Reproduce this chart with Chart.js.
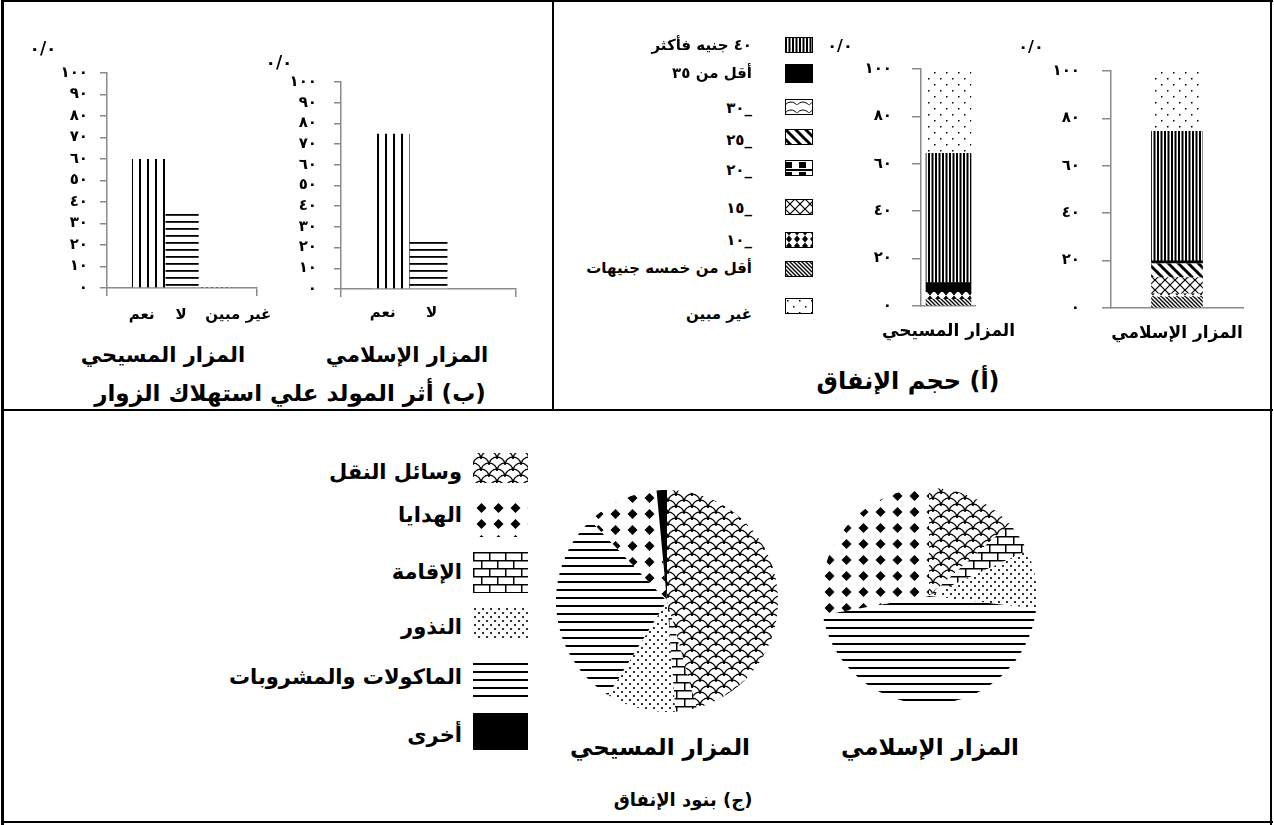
<!DOCTYPE html>
<html lang="ar">
<head>
<meta charset="utf-8">
<script src="https://cdn.jsdelivr.net/npm/chart.js@4"></script>
<style>
  body { margin: 0; background: #fff; }
  #page { position: relative; width: 1274px; height: 825px; overflow: hidden; background: #fff; font-family: "DejaVu Sans", sans-serif; }
  canvas { position: absolute; }
  .ln { position: absolute; background: #000; }
  .t { position: absolute; white-space: nowrap; font-weight: bold; line-height: 1; color: #000; }
</style>
</head>
<body>
<div id="page">
  <div class="ln" style="left:1px;top:0;width:1272px;height:2px"></div>
  <div class="ln" style="left:1px;top:0;width:3px;height:825px"></div>
  <div class="ln" style="left:1270px;top:0;width:2px;height:825px"></div>
  <div class="ln" style="left:1px;top:821px;width:1272px;height:2px"></div>
  <div class="ln" style="left:552px;top:0;width:2px;height:410px"></div>
  <div class="ln" style="left:1px;top:409px;width:1272px;height:2px"></div>

  <canvas id="effectChristian" width="270" height="280" style="left:0;top:50px"></canvas>
  <canvas id="effectIslamic" width="270" height="280" style="left:270px;top:50px"></canvas>
  <canvas id="spendChristian" width="210" height="310" style="left:830px;top:40px"></canvas>
  <canvas id="spendIslamic" width="229" height="310" style="left:1045px;top:40px"></canvas>
  <canvas id="itemsChristian" width="222" height="222" style="left:556px;top:490px"></canvas>
  <canvas id="itemsIslamic" width="216" height="216" style="left:821px;top:488px"></canvas>
</div>
<script>
// (b) effect of the mouled on visitors' consumption
const effectCats = ['نعم', 'لا', 'غير مبين'];
const effectChristian = [60, 36, 1];
const effectIslamic = [75, 24.5, 0];
const effectTicks = ['٠', '١٠', '٢٠', '٣٠', '٤٠', '٥٠', '٦٠', '٧٠', '٨٠', '٩٠', '١٠٠'];

// (a) spending volume, stacked bottom to top
const shrines = ['المزار المسيحي', 'المزار الإسلامي'];
const spendCats = ['أقل من خمسه جنيهات', '١٠_', '١٥_', '٢٠_', '٢٥_', '٣٠_', 'أقل من ٣٥', '٤٠ جنيه فأكثر', 'غير مبين'];
const spendChristian = [2.8, 3.0, 0, 0, 0, 0, 4.1, 54.5, 35.6];
const spendIslamic = [4.6, 1.4, 6.8, 0, 5.8, 0, 1.3, 54.6, 25.5];
const spendTicks = ['٠', '٢٠', '٤٠', '٦٠', '٨٠', '١٠٠'];

// (c) spending items, clockwise from the top
const itemCats = ['وسائل النقل', 'الإقامة', 'النذور', 'الماكولات والمشروبات', 'الهدايا', 'أخرى'];
const itemsChristian = [45.7, 3.1, 10.1, 29.0, 10.6, 1.5];
const itemsIslamic = [13.4, 4.7, 8.8, 45.3, 27.8, 0];

const effectPatterns = ['vlines', 'hlines', 'dotted'];
const spendPatterns = ['fine', 'bowtie', 'cross', 'block', 'thick', 'arcs', 'black', 'stripes', 'sparse'];
const itemPatterns = ['scales', 'bricks', 'dots', 'lines', 'diamonds', 'black'];
const axisGrey = '#8a8a8a';

const page = document.getElementById('page');

function makePatterns(ctx) {
  function tile(w, h, draw) {
    const c = document.createElement('canvas');
    c.width = w; c.height = h;
    const g = c.getContext('2d');
    g.fillStyle = '#fff'; g.fillRect(0, 0, w, h);
    g.fillStyle = '#000'; g.strokeStyle = '#000';
    draw(g, w, h);
    return ctx.createPattern(c, 'repeat');
  }
  function diagonal(g, w, h, back) {
    for (const dx of [-w, 0, w]) {
      g.beginPath();
      if (back) { g.moveTo(dx - 1, -1); g.lineTo(dx + w + 1, h + 1); }
      else { g.moveTo(dx - 1, h + 1); g.lineTo(dx + w + 1, -1); }
      g.stroke();
    }
  }
  function dot(g, x, y, r) { g.beginPath(); g.arc(x, y, r, 0, Math.PI * 2); g.fill(); }
  return {
    black: '#000',
    vlines: tile(8, 8, g => g.fillRect(3, 0, 2, 8)),
    hlines: tile(8, 7, g => g.fillRect(0, 3, 8, 1.8)),
    dotted: tile(5, 4, g => g.fillRect(1, 1, 2, 2)),
    stripes: tile(7, 4, g => { g.fillRect(0, 0, 2, 4); g.fillRect(3.5, 0, 2, 4); }),
    sparse: tile(12, 12, g => { g.fillRect(2, 2, 1.5, 1.5); g.fillRect(8, 8, 1.5, 1.5); }),
    fine: tile(4, 4, (g, w, h) => { g.lineWidth = 1.3; diagonal(g, w, h, true); }),
    bowtie: tile(8, 7, g => {
      g.beginPath(); g.moveTo(1, 0); g.lineTo(7, 0); g.lineTo(4, 3.5); g.closePath(); g.fill();
      g.beginPath(); g.moveTo(4, 3.5); g.lineTo(7, 7); g.lineTo(1, 7); g.closePath(); g.fill();
    }),
    cross: tile(10, 10, (g, w, h) => { g.lineWidth = 1.2; diagonal(g, w, h, true); diagonal(g, w, h, false); }),
    block: tile(14, 10, g => { g.fillRect(0, 2, 7, 6); g.fillRect(0, 0, 14, 1); g.fillRect(0, 9, 14, 1); }),
    thick: tile(10, 10, (g, w, h) => { g.lineWidth = 3; diagonal(g, w, h, true); }),
    arcs: tile(12, 8, g => { g.lineWidth = 1; g.beginPath(); g.arc(6, 10, 7, Math.PI * 1.2, Math.PI * 1.8); g.stroke(); }),
    scales: tile(16, 12, g => {
      g.lineWidth = 1.3;
      [[8, 12], [0, 6], [16, 6], [0, 18], [16, 18]].forEach(([x, y]) => {
        g.beginPath(); g.arc(x, y, 8, Math.PI, Math.PI * 2); g.stroke();
      });
    }),
    diamonds: tile(17, 16, g => {
      g.beginPath(); g.moveTo(8.5, 3); g.lineTo(13.5, 8); g.lineTo(8.5, 13); g.lineTo(3.5, 8); g.closePath(); g.fill();
    }),
    bricks: tile(16, 16, g => { g.fillRect(0, 0, 16, 1.5); g.fillRect(0, 8, 16, 1.5); g.fillRect(0, 0, 1.5, 8); g.fillRect(8, 8, 1.5, 8); }),
    dots: tile(8, 8, g => { dot(g, 2, 2, 1.1); dot(g, 6, 6, 1.1); }),
    lines: tile(8, 8, g => g.fillRect(0, 3, 8, 2))
  };
}

function addText(str, x, y, size, align, dir) {
  const d = document.createElement('div');
  d.className = 't';
  d.dir = dir || 'rtl';
  d.textContent = str;
  d.style.fontSize = size + 'px';
  d.style.top = y + 'px';
  if (align === 'right') {
    d.style.right = (1274 - x) + 'px';
    d.style.transform = 'translateY(-50%)';
  } else {
    d.style.left = x + 'px';
    d.style.transform = 'translate(-50%, -50%)';
  }
  page.appendChild(d);
}

function addSwatch(x, y, w, h, pattern, border) {
  const c = document.createElement('canvas');
  c.width = w; c.height = h;
  c.style.left = x + 'px'; c.style.top = y + 'px';
  const g = c.getContext('2d');
  g.fillStyle = makePatterns(g)[pattern];
  g.fillRect(0, 0, w, h);
  if (border) { g.strokeStyle = '#000'; g.lineWidth = 1; g.strokeRect(0.5, 0.5, w - 1, h - 1); }
  page.appendChild(c);
}

Chart.defaults.font.family = '"DejaVu Sans", sans-serif';
Chart.defaults.font.weight = 'bold';
Chart.defaults.color = '#000';
Chart.defaults.animation = false;
Chart.defaults.events = [];
Chart.defaults.plugins.legend.display = false;
Chart.defaults.plugins.tooltip.enabled = false;

// names under each bar of panel (b)
const barLabels = {
  id: 'barLabels',
  afterDraw(chart, args, opts) {
    const ctx = chart.ctx;
    ctx.save();
    ctx.font = 'bold 15px "DejaVu Sans"';
    ctx.fillStyle = '#000';
    ctx.textAlign = 'center';
    ctx.textBaseline = 'middle';
    chart.data.datasets.forEach((ds, i) => {
      if (!ds.data[0]) return;
      const bar = chart.getDatasetMeta(i).data[0];
      ctx.fillText(ds.label, bar.x + opts.shift[i], opts.y);
    });
    ctx.restore();
  }
};

function effectChart(id, values, o) {
  const canvas = document.getElementById(id);
  const P = makePatterns(canvas.getContext('2d'));
  return new Chart(canvas, {
    type: 'bar',
    data: {
      labels: [''],
      datasets: effectCats.map((c, i) => ({
        label: c, data: [values[i]], backgroundColor: P[effectPatterns[i]], borderWidth: 0
      }))
    },
    options: {
      responsive: false,
      layout: { autoPadding: false, padding: { top: o.top, right: o.right, left: 0, bottom: 0 } },
      datasets: { bar: { categoryPercentage: o.cp, barPercentage: 1 } },
      scales: {
        x: {
          grid: { drawOnChartArea: false, tickLength: 8, color: axisGrey, lineWidth: 1.5 },
          border: { color: axisGrey, width: 1.5 },
          ticks: { display: false },
          afterFit: s => { s.height = o.xh; }
        },
        y: {
          min: 0, max: 100,
          ticks: { stepSize: 10, autoSkip: false, padding: o.pad, font: { size: 15 }, callback: (v, i) => effectTicks[i] },
          grid: { drawOnChartArea: false, tickLength: 7, color: axisGrey, lineWidth: 1.5 },
          border: { color: axisGrey, width: 1.5 },
          afterFit: s => { s.width = o.yw; }
        }
      },
      plugins: { barLabels: { y: o.ly, shift: o.shift } }
    },
    plugins: [barLabels]
  });
}

function spendChart(id, name, values, o) {
  const canvas = document.getElementById(id);
  const P = makePatterns(canvas.getContext('2d'));
  return new Chart(canvas, {
    type: 'bar',
    data: {
      labels: [name],
      datasets: spendCats.map((c, i) => ({
        label: c, data: [values[i]], backgroundColor: P[spendPatterns[i]], borderWidth: 0, barThickness: o.bw
      }))
    },
    options: {
      responsive: false,
      layout: { autoPadding: false, padding: { top: o.top, right: o.right, left: 0, bottom: 0 } },
      scales: {
        x: {
          stacked: true,
          grid: { display: false, drawTicks: false },
          border: { color: axisGrey, width: 1.5 },
          ticks: { padding: 15, font: { size: 17 } },
          afterFit: s => { s.height = o.xh; }
        },
        y: {
          stacked: true, min: 0, max: 100,
          ticks: { stepSize: 20, autoSkip: false, padding: o.pad, font: { size: 15 }, callback: (v, i) => spendTicks[i] },
          grid: { drawOnChartArea: false, tickLength: 9, color: axisGrey, lineWidth: 1.5 },
          border: { color: axisGrey, width: 1.5 },
          afterFit: s => { s.width = o.yw; }
        }
      }
    }
  });
}

function itemsPie(id, values) {
  const canvas = document.getElementById(id);
  const P = makePatterns(canvas.getContext('2d'));
  return new Chart(canvas, {
    type: 'pie',
    data: {
      labels: itemCats,
      datasets: [{ data: values, backgroundColor: itemPatterns.map(k => P[k]), borderWidth: 0 }]
    },
    options: { responsive: false, layout: { padding: 0 } }
  });
}

effectChart('effectChristian', effectChristian, { top: 23, right: 13, xh: 42, yw: 107, pad: 12, cp: 0.667, ly: 265, shift: [-7, -1, 23] });
effectChart('effectIslamic', effectIslamic, { top: 32, right: 24, xh: 41, yw: 71, pad: 17, cp: 0.65, ly: 263, shift: [-8, 3, 0] });
spendChart('spendChristian', shrines[0], spendChristian, { top: 21, right: 20, xh: 44, yw: 91, pad: 20, bw: 45 });
spendChart('spendIslamic', shrines[1], spendIslamic, { top: 23, right: 31, xh: 42, yw: 66, pad: 22, bw: 51 });
itemsPie('itemsChristian', itemsChristian);
itemsPie('itemsIslamic', itemsIslamic);

// panel (b) texts
addText('٠/٠', 43, 48, 17);
addText('٠/٠', 279, 62, 17);
addText(shrines[0], 163, 355, 21);
addText(shrines[1], 407, 355, 21);
addText('(ب) أثر المولد علي استهلاك الزوار', 290, 393, 23);

// panel (a) legend, top to bottom
addText('٠/٠', 840, 46, 16);
addText('٠/٠', 1031, 47, 16);
const spendLegendOrder = [7, 6, 5, 4, 3, 2, 1, 0, 8];
const spendLegendTextY = [45, 73, 108, 140, 170, 208, 240, 268, 314];
const spendLegendBoxY = [37, 64, 99, 129, 160, 199, 232, 261, 298];
spendLegendOrder.forEach((k, row) => {
  addText(spendCats[k], 752, spendLegendTextY[row], 15, 'right', 'ltr');
  addSwatch(785, spendLegendBoxY[row], 28, k === 6 ? 19 : 16, spendPatterns[k], true);
});
addText('(أ) حجم الإنفاق', 908, 381, 24);

// panel (c) legend, top to bottom
const itemLegendOrder = [0, 4, 1, 2, 3, 5];
const itemLegendTextY = [472, 515, 572, 627, 677, 735];
const itemLegendBox = [[453, 30], [500, 37], [552, 41], [607, 33], [660, 37], [713, 37]];
itemLegendOrder.forEach((k, row) => {
  addText(itemCats[k], 462, itemLegendTextY[row], 21, 'right');
  addSwatch(473, itemLegendBox[row][0], 55, itemLegendBox[row][1], itemPatterns[k], false);
});
addText(shrines[0], 660, 747, 23);
addText(shrines[1], 930, 747, 23);
addText('(ج) بنود الإنفاق', 683, 800, 18);
</script>
</body>
</html>
